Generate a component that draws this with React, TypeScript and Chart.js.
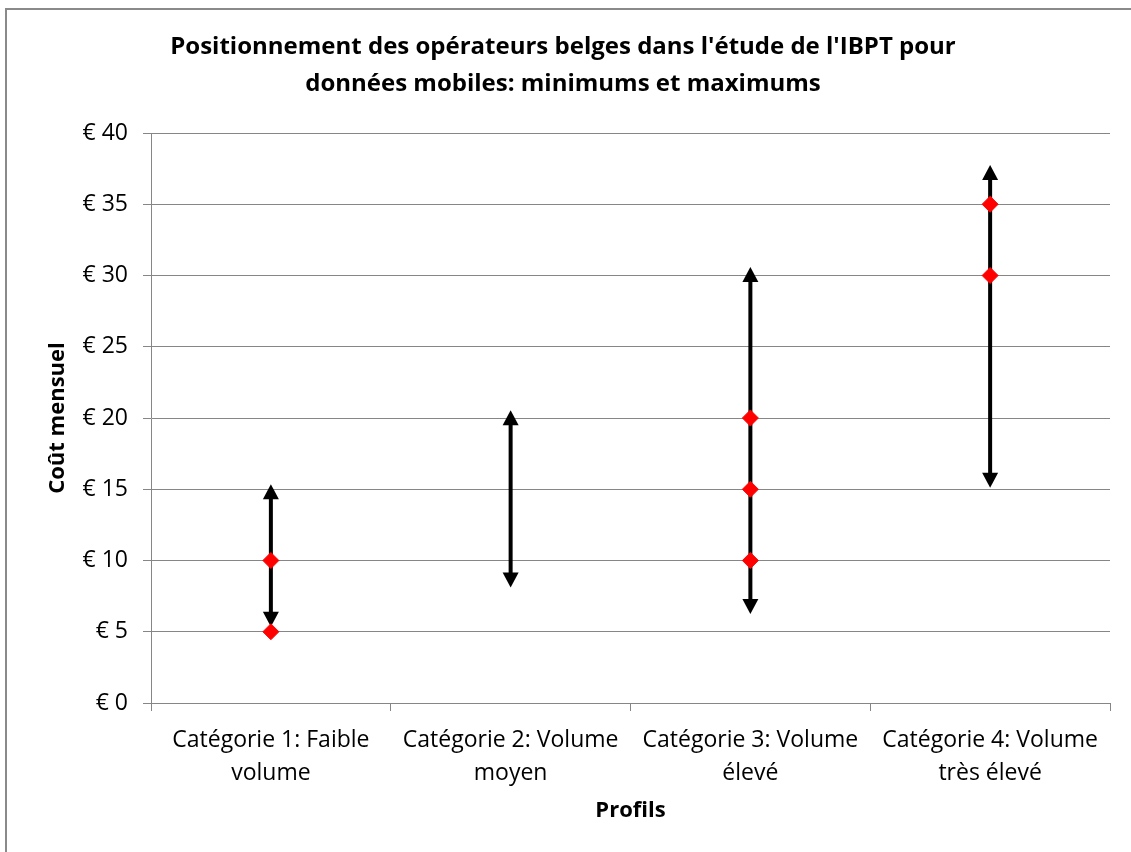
import React, { useEffect, useRef } from 'react';
import { Chart, registerables } from 'chart.js';

Chart.register(...registerables);

const titleLines = [
  "Positionnement des opérateurs belges dans l'étude de l'IBPT pour",
  'données mobiles: minimums et maximums',
];
const categories = [
  ['Catégorie 1: Faible', 'volume'],
  ['Catégorie 2: Volume', 'moyen'],
  ['Catégorie 3: Volume', 'élevé'],
  ['Catégorie 4: Volume', 'très élevé'],
];
const yAxisTitle = 'Coût mensuel';
const xAxisTitle = 'Profils';
const yMin = 0;
const yMax = 40;
const yStep = 5;
const tickPrefix = '€ ';

// Arrow (range) ends per category
const arrowMin = [5.35, 8.1, 6.25, 15.1];
const arrowMax = [15.35, 20.55, 30.6, 37.75];

// Red markers (operator prices)
const markersA = [10, null, 20, 35];
const markersB = [5, null, 15, 30];
const markersC = [null, null, 10, null];

const FONT = "'Open Sans', 'DejaVu Sans', sans-serif";
const GRID = '#868686';

const arrowPlugin = {
  id: 'rangeArrows',
  beforeDatasetsDraw(chart: any) {
    const { ctx, scales } = chart;
    const x = scales.x;
    const y = scales.y;
    const headL = 15;
    const headW = 8;
    ctx.save();
    ctx.strokeStyle = '#000';
    ctx.fillStyle = '#000';
    ctx.lineWidth = 4;
    arrowMin.forEach((mn: number, i: number) => {
      const px = x.getPixelForValue(i);
      const top = y.getPixelForValue(arrowMax[i]);
      const bot = y.getPixelForValue(mn);
      ctx.beginPath();
      ctx.moveTo(px, top + headL - 2);
      ctx.lineTo(px, bot - headL + 2);
      ctx.stroke();
      ctx.beginPath();
      ctx.moveTo(px, top);
      ctx.lineTo(px - headW, top + headL);
      ctx.lineTo(px + headW, top + headL);
      ctx.closePath();
      ctx.fill();
      ctx.beginPath();
      ctx.moveTo(px, bot);
      ctx.lineTo(px - headW, bot - headL);
      ctx.lineTo(px + headW, bot - headL);
      ctx.closePath();
      ctx.fill();
    });
    ctx.restore();
  },
};

export default function App() {
  const ref = useRef<HTMLCanvasElement | null>(null);

  useEffect(() => {
    if (!ref.current) return;
    const marker = (data: (number | null)[]) => ({
      data,
      showLine: false,
      pointStyle: 'rectRot',
      pointRadius: 8,
      pointHoverRadius: 8,
      backgroundColor: '#ff0000',
      borderColor: '#ff0000',
      borderWidth: 1,
    });
    const chart = new Chart(ref.current, {
      type: 'line',
      data: {
        labels: categories,
        datasets: [marker(markersA), marker(markersB), marker(markersC)],
      },
      plugins: [arrowPlugin],
      options: {
        animation: false,
        responsive: false,
        devicePixelRatio: 1,
        layout: { padding: 0 },
        plugins: {
          legend: { display: false },
          tooltip: { enabled: false },
          title: {
            display: true,
            text: titleLines,
            color: '#000',
            font: { family: FONT, size: 24, weight: 'bold', lineHeight: 37 / 24 },
            padding: { top: 29, bottom: 30 },
          },
        },
        scales: {
          x: {
            type: 'category',
            offset: true,
            grid: {
              display: true,
              offset: true,
              drawOnChartArea: false,
              drawTicks: true,
              tickLength: 8,
              color: GRID,
            },
            border: { display: true, color: GRID },
            ticks: {
              color: '#000',
              font: { family: FONT, size: 23, lineHeight: 33 / 23 },
              padding: 13,
              maxRotation: 0,
              autoSkip: false,
            },
            title: {
              display: true,
              text: xAxisTitle,
              color: '#000',
              font: { family: FONT, size: 22, weight: 'bold', lineHeight: 1.2 },
              padding: { top: 0, bottom: 28 },
            },
            afterFit(s: any) {
              s.height = 852 - 703;
            },
          },
          y: {
            min: yMin,
            max: yMax,
            grid: {
              color: GRID,
              tickLength: 8,
              drawTicks: true,
            },
            border: { display: true, color: GRID },
            ticks: {
              stepSize: yStep,
              color: '#000',
              font: { family: FONT, size: 23 },
              padding: 15,
              callback: (v: any) => tickPrefix + v,
            },
            title: {
              display: true,
              text: yAxisTitle,
              color: '#000',
              font: { family: FONT, size: 22, weight: 'bold', lineHeight: 1.2 },
              padding: { top: 45, bottom: 0 },
            },
            afterFit(s: any) {
              s.width = 151;
            },
          },
          y2: {
            position: 'right',
            display: true,
            grid: { display: false, drawTicks: false },
            border: { display: false },
            ticks: { display: false },
            afterFit(s: any) {
              s.width = 16;
            },
          },
        },
      },
    } as any);
    return () => chart.destroy();
  }, []);

  return (
    <div style={{ position: 'fixed', left: 0, top: 0, width: 1131, height: 852, overflow: 'hidden', background: '#fff' }}>
      <div
        style={{
          position: 'absolute',
          left: 5,
          top: 8,
          width: 1200,
          height: 900,
          border: '2px solid #8a8a8a',
          boxSizing: 'border-box',
        }}
      />
      <canvas
        ref={ref}
        width={1126}
        height={852}
        style={{ position: 'absolute', left: 0, top: 0, width: 1126, height: 852 }}
      />
    </div>
  );
}
